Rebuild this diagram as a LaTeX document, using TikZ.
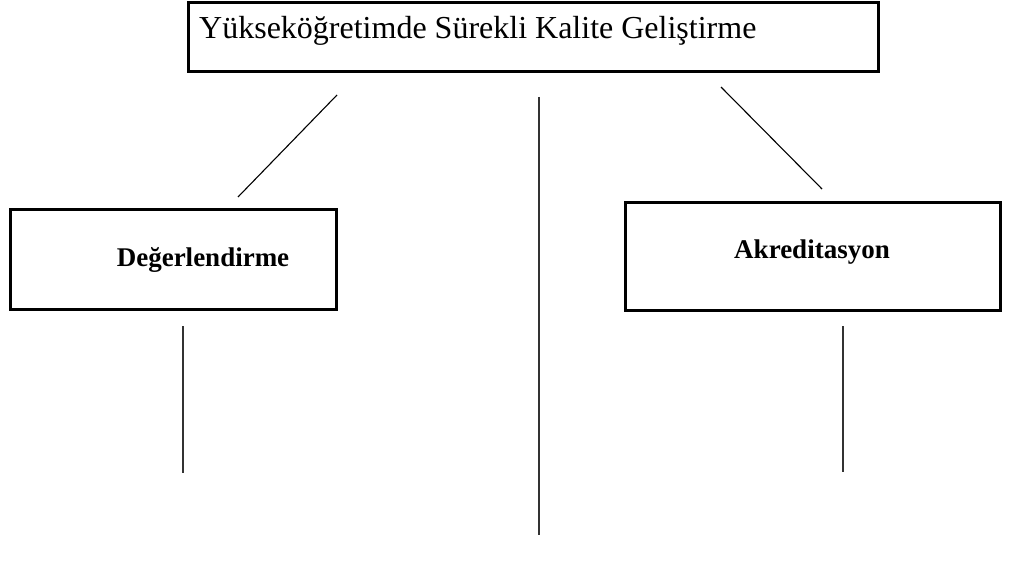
\documentclass[tikz,border=0pt]{standalone}
\usepackage{fontspec}
\setmainfont{Liberation Serif}
\begin{document}
\begin{tikzpicture}[x=1pt,y=-1pt,
  box/.style={draw, line width=3pt, inner sep=0pt, outer sep=0pt, anchor=north west},
  conn/.style={line width=1.1pt, black},
  vline/.style={line width=1.8pt, black!80},
  big/.style={font=\fontsize{32}{38}\selectfont},
  bigb/.style={font=\fontsize{27}{32}\selectfont\bfseries}]
\useasboundingbox (0,0) rectangle (1032,567);
% boxes
\node[box, minimum width=690pt, minimum height=69pt] (top) at (188,3) {};
\node[box, minimum width=326pt, minimum height=100pt] (left) at (10,209) {};
\node[box, minimum width=375pt, minimum height=108pt] (right) at (625,202) {};
% texts
\node[big, anchor=base west, inner sep=0pt] (toptext) at (199,39) {Yükseköğretimde Sürekli Kalite Geliştirme};
\node[bigb, anchor=base, inner sep=0pt] (lefttext) at (203,266) {Değerlendirme};
\node[bigb, anchor=base, inner sep=0pt] (righttext) at (812,258) {Akreditasyon};
% connector ends
\coordinate (la) at (337,95);  \coordinate (lb) at (238,197);
\coordinate (ra) at (721,87);  \coordinate (rb) at (822,189);
\coordinate (ca) at (539,97);  \coordinate (cb) at (539,535);
\coordinate (lva) at (183,326); \coordinate (lvb) at (183,473);
\coordinate (rva) at (843,326); \coordinate (rvb) at (843,472);
% connectors
\draw[conn] (la) -- (lb);
\draw[conn] (ra) -- (rb);
\draw[vline] (ca) -- (cb);
\draw[vline] (lva) -- (lvb);
\draw[vline] (rva) -- (rvb);
\end{tikzpicture}
\end{document}
